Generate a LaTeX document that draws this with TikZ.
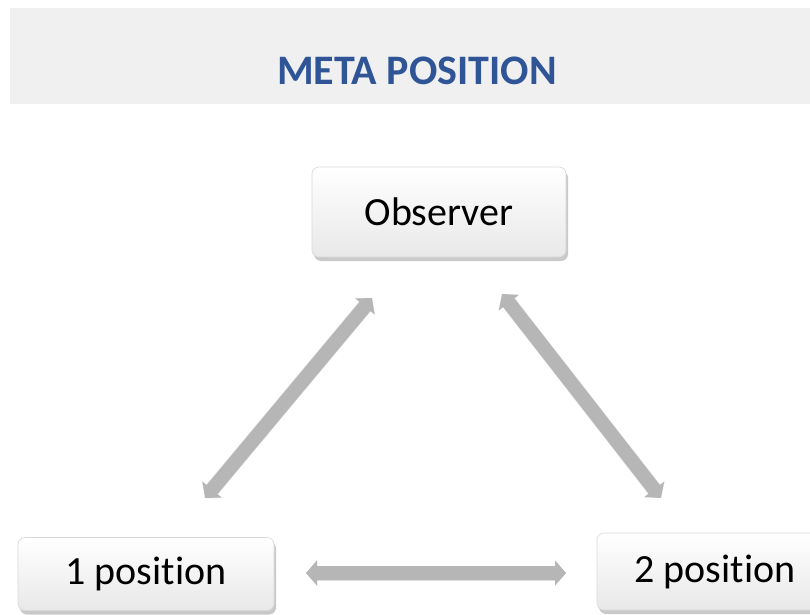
\documentclass[tikz,border=0pt]{standalone}
\usepackage{fontspec}
\setmainfont[Ligatures={NoCommon}]{Carlito}
\usetikzlibrary{arrows.meta,shadows}
\definecolor{band}{HTML}{F0F0F0}
\definecolor{titleblue}{HTML}{2F5597}
\definecolor{arrowgray}{HTML}{B6B6B6}
\definecolor{boxline}{HTML}{D8D8D8}
\tikzset{
  posbox/.style={draw=boxline, line width=0.6pt, rounded corners=7pt,
    top color=white, bottom color=black!9,
    drop shadow={shadow xshift=2pt, shadow yshift=-4pt, opacity=0.35, fill=black!60},
    font=\fontsize{40}{48}\selectfont, text=black, inner sep=0pt},
  biarrow/.style={line width=14pt, draw=arrowgray,
    {Triangle[width=24pt,length=11pt]}-{Triangle[width=24pt,length=11pt]}},
  biarrowshadow/.style={line width=15pt, draw=black!35, opacity=0.35,
    {Triangle[width=26pt,length=11pt]}-{Triangle[width=26pt,length=11pt]}},
}
\begin{document}
\begin{tikzpicture}[x=1pt,y=1pt]
\clip (0,0) rectangle (810,614);
\fill[white] (0,0) rectangle (810,614);
% title band
\fill[band] (10,510) rectangle (810,606);
\node[text=titleblue, font=\fontsize{42}{50}\selectfont\bfseries] (title) at (417,543) {META POSITION};
% boxes
\node[posbox, minimum width=254pt, minimum height=90pt] (obs) at (439,402) {Observer};
\node[posbox, minimum width=256pt, minimum height=73pt] (p1) at (146,40) {1 position};
\node[posbox, minimum width=236pt, minimum height=77pt] (p2) at (715,42.5) {2 position};
% arrow end points
\coordinate (a1s) at (372,316);
\coordinate (a1e) at (205,116);
\coordinate (a2s) at (502,320);
\coordinate (a2e) at (661,116);
\coordinate (a3s) at (306,41);
\coordinate (a3e) at (566,41);
% shadows of arrows
\begin{scope}[shift={(2pt,-3pt)}]
\draw[biarrowshadow] (a1s) -- (a1e);
\draw[biarrowshadow] (a2s) -- (a2e);
\draw[biarrowshadow] (a3s) -- (a3e);
\end{scope}
% arrows
\draw[biarrow] (a1s) -- (a1e);
\draw[biarrow] (a2s) -- (a2e);
\draw[biarrow] (a3s) -- (a3e);
\end{tikzpicture}
\end{document}
